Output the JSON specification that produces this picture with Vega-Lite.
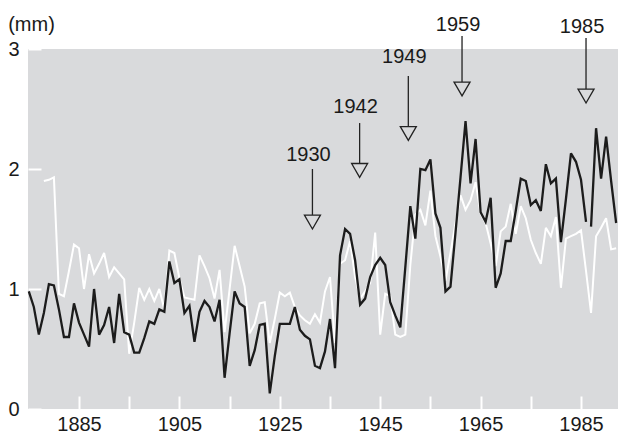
{
  "$schema": "https://vega.github.io/schema/vega-lite/v6.json",
  "autosize": {"type": "none"},
  "width": 590,
  "height": 360,
  "padding": {"left": 28, "top": 49, "right": 0, "bottom": 25},
  "background": "#ffffff",
  "config": {
    "view": {"fill": "#d9dadc", "stroke": null},
    "font": "Liberation Sans",
    "text": {"font": "Liberation Sans"}
  },
  "datasets": {
    "white": [
      {"year":1878,"value":1.90},{"year":1879,"value":1.91},{"year":1880,"value":1.93},{"year":1881,"value":0.96},{"year":1882,"value":0.94},
      {"year":1883,"value":1.15},{"year":1884,"value":1.37},{"year":1885,"value":1.34},{"year":1886,"value":1.00},{"year":1887,"value":1.29},
      {"year":1888,"value":1.13},{"year":1889,"value":1.21},{"year":1890,"value":1.30},{"year":1891,"value":1.10},{"year":1892,"value":1.18},
      {"year":1893,"value":1.13},{"year":1894,"value":1.08},{"year":1895,"value":0.46},{"year":1896,"value":0.72},{"year":1897,"value":1.01},
      {"year":1898,"value":0.91},{"year":1899,"value":1.00},{"year":1900,"value":0.90},{"year":1901,"value":1.00},{"year":1902,"value":0.83},
      {"year":1903,"value":1.32},{"year":1904,"value":1.30},{"year":1905,"value":1.09},{"year":1906,"value":0.93},{"year":1907,"value":0.92},
      {"year":1908,"value":0.91},{"year":1909,"value":1.28},{"year":1910,"value":1.19},{"year":1911,"value":1.09},{"year":1912,"value":0.92},
      {"year":1913,"value":1.16},{"year":1914,"value":0.64},{"year":1915,"value":1.00},{"year":1916,"value":1.36},{"year":1917,"value":1.19},
      {"year":1918,"value":1.02},{"year":1919,"value":0.63},{"year":1920,"value":0.71},{"year":1921,"value":0.88},{"year":1922,"value":0.89},
      {"year":1923,"value":0.55},{"year":1924,"value":0.75},{"year":1925,"value":0.97},{"year":1926,"value":0.94},{"year":1927,"value":0.97},
      {"year":1928,"value":0.85},{"year":1929,"value":0.78},{"year":1930,"value":0.74},{"year":1931,"value":0.71},{"year":1932,"value":0.79},
      {"year":1933,"value":0.72},{"year":1934,"value":0.98},{"year":1935,"value":1.10},{"year":1936,"value":0.55},{"year":1937,"value":1.21},
      {"year":1938,"value":1.24},{"year":1939,"value":1.40},{"year":1940,"value":1.10},{"year":1941,"value":0.92},{"year":1942,"value":0.98},
      {"year":1943,"value":1.05},{"year":1944,"value":1.47},{"year":1945,"value":0.62},{"year":1946,"value":0.96},{"year":1947,"value":0.94},
      {"year":1948,"value":0.62},{"year":1949,"value":0.60},{"year":1950,"value":0.62},{"year":1951,"value":1.20},{"year":1952,"value":1.62},
      {"year":1953,"value":1.66},{"year":1954,"value":1.53},{"year":1955,"value":1.82},{"year":1956,"value":1.44},{"year":1957,"value":1.27},
      {"year":1958,"value":1.07},{"year":1959,"value":1.30},{"year":1960,"value":1.55},{"year":1961,"value":1.78},{"year":1962,"value":1.66},
      {"year":1963,"value":1.74},{"year":1964,"value":1.89},{"year":1965,"value":1.63},{"year":1966,"value":1.55},{"year":1967,"value":1.38},
      {"year":1968,"value":1.19},{"year":1969,"value":1.48},{"year":1970,"value":1.52},{"year":1971,"value":1.71},{"year":1972,"value":1.46},
      {"year":1973,"value":1.69},{"year":1974,"value":1.59},{"year":1975,"value":1.41},{"year":1976,"value":1.30},{"year":1977,"value":1.21},
      {"year":1978,"value":1.51},{"year":1979,"value":1.44},{"year":1980,"value":1.60},{"year":1981,"value":1.01},{"year":1982,"value":1.42},
      {"year":1983,"value":1.44},{"year":1984,"value":1.46},{"year":1985,"value":1.49},{"year":1986,"value":1.15},{"year":1987,"value":0.80},
      {"year":1988,"value":1.44},{"year":1989,"value":1.51},{"year":1990,"value":1.59},{"year":1991,"value":1.33},{"year":1992,"value":1.34}
    ],
    "black": [
      {"year":1875,"value":0.98,"seg":"a"},{"year":1876,"value":0.85,"seg":"a"},{"year":1877,"value":0.62,"seg":"a"},{"year":1878,"value":0.80,"seg":"a"},{"year":1879,"value":1.04,"seg":"a"},
      {"year":1880,"value":1.03,"seg":"a"},{"year":1881,"value":0.83,"seg":"a"},{"year":1882,"value":0.60,"seg":"a"},{"year":1883,"value":0.60,"seg":"a"},{"year":1884,"value":0.88,"seg":"a"},
      {"year":1885,"value":0.72,"seg":"a"},{"year":1886,"value":0.62,"seg":"a"},{"year":1887,"value":0.52,"seg":"a"},{"year":1888,"value":1.00,"seg":"a"},{"year":1889,"value":0.62,"seg":"a"},
      {"year":1890,"value":0.70,"seg":"a"},{"year":1891,"value":0.85,"seg":"a"},{"year":1892,"value":0.55,"seg":"a"},{"year":1893,"value":0.96,"seg":"a"},{"year":1894,"value":0.64,"seg":"a"},
      {"year":1895,"value":0.62,"seg":"a"},{"year":1896,"value":0.47,"seg":"a"},{"year":1897,"value":0.47,"seg":"a"},{"year":1898,"value":0.59,"seg":"a"},{"year":1899,"value":0.73,"seg":"a"},
      {"year":1900,"value":0.71,"seg":"a"},{"year":1901,"value":0.83,"seg":"a"},{"year":1902,"value":0.81,"seg":"a"},{"year":1903,"value":1.23,"seg":"a"},{"year":1904,"value":1.05,"seg":"a"},
      {"year":1905,"value":1.08,"seg":"a"},{"year":1906,"value":0.80,"seg":"a"},{"year":1907,"value":0.86,"seg":"a"},{"year":1908,"value":0.56,"seg":"a"},{"year":1909,"value":0.81,"seg":"a"},
      {"year":1910,"value":0.90,"seg":"a"},{"year":1911,"value":0.85,"seg":"a"},{"year":1912,"value":0.73,"seg":"a"},{"year":1913,"value":0.91,"seg":"a"},{"year":1914,"value":0.26,"seg":"a"},
      {"year":1915,"value":0.63,"seg":"a"},{"year":1916,"value":0.98,"seg":"a"},{"year":1917,"value":0.88,"seg":"a"},{"year":1918,"value":0.85,"seg":"a"},{"year":1919,"value":0.36,"seg":"a"},
      {"year":1920,"value":0.49,"seg":"a"},{"year":1921,"value":0.70,"seg":"a"},{"year":1922,"value":0.71,"seg":"a"},{"year":1923,"value":0.13,"seg":"a"},{"year":1924,"value":0.44,"seg":"a"},
      {"year":1925,"value":0.71,"seg":"a"},{"year":1926,"value":0.71,"seg":"a"},{"year":1927,"value":0.71,"seg":"a"},{"year":1928,"value":0.85,"seg":"a"},{"year":1929,"value":0.66,"seg":"a"},
      {"year":1930,"value":0.61,"seg":"a"},{"year":1931,"value":0.58,"seg":"a"},{"year":1932,"value":0.36,"seg":"a"},{"year":1933,"value":0.34,"seg":"a"},{"year":1934,"value":0.48,"seg":"a"},
      {"year":1935,"value":0.75,"seg":"a"},{"year":1936,"value":0.34,"seg":"a"},{"year":1937,"value":1.28,"seg":"a"},{"year":1938,"value":1.50,"seg":"a"},{"year":1939,"value":1.46,"seg":"a"},
      {"year":1940,"value":1.24,"seg":"a"},{"year":1941,"value":0.87,"seg":"a"},{"year":1942,"value":0.92,"seg":"a"},{"year":1943,"value":1.10,"seg":"a"},{"year":1944,"value":1.20,"seg":"a"},
      {"year":1945,"value":1.26,"seg":"a"},{"year":1946,"value":1.20,"seg":"a"},{"year":1947,"value":0.89,"seg":"a"},{"year":1948,"value":0.78,"seg":"a"},{"year":1949,"value":0.68,"seg":"a"},
      {"year":1950,"value":1.18,"seg":"a"},{"year":1951,"value":1.69,"seg":"a"},{"year":1952,"value":1.42,"seg":"a"},{"year":1953,"value":2.00,"seg":"a"},{"year":1954,"value":1.99,"seg":"a"},
      {"year":1955,"value":2.08,"seg":"a"},{"year":1956,"value":1.63,"seg":"a"},{"year":1957,"value":1.51,"seg":"a"},{"year":1958,"value":0.98,"seg":"a"},{"year":1959,"value":1.02,"seg":"a"},
      {"year":1960,"value":1.47,"seg":"a"},{"year":1961,"value":1.93,"seg":"a"},{"year":1962,"value":2.40,"seg":"a"},{"year":1963,"value":1.88,"seg":"a"},{"year":1964,"value":2.25,"seg":"a"},
      {"year":1965,"value":1.64,"seg":"a"},{"year":1966,"value":1.56,"seg":"a"},{"year":1967,"value":1.76,"seg":"a"},{"year":1968,"value":1.01,"seg":"a"},{"year":1969,"value":1.13,"seg":"a"},
      {"year":1970,"value":1.40,"seg":"a"},{"year":1971,"value":1.40,"seg":"a"},{"year":1972,"value":1.65,"seg":"a"},{"year":1973,"value":1.92,"seg":"a"},{"year":1974,"value":1.90,"seg":"a"},
      {"year":1975,"value":1.70,"seg":"a"},{"year":1976,"value":1.74,"seg":"a"},{"year":1977,"value":1.65,"seg":"a"},{"year":1978,"value":2.04,"seg":"a"},{"year":1979,"value":1.88,"seg":"a"},
      {"year":1980,"value":1.92,"seg":"a"},{"year":1981,"value":1.39,"seg":"a"},{"year":1982,"value":1.75,"seg":"a"},{"year":1983,"value":2.13,"seg":"a"},{"year":1984,"value":2.06,"seg":"a"},
      {"year":1985,"value":1.91,"seg":"a"},{"year":1986,"value":1.56,"seg":"a"},
      {"year":1987,"value":1.52,"seg":"b"},{"year":1988,"value":2.34,"seg":"b"},{"year":1989,"value":1.92,"seg":"b"},{"year":1990,"value":2.27,"seg":"b"},{"year":1991,"value":1.90,"seg":"b"},{"year":1992,"value":1.55,"seg":"b"}
    ],
    "arrows": [
      {"label":"1930","year":1931.5,"ty":2.117,"l1":2.0,"l2":1.617,"tri":1.558},
      {"label":"1942","year":1940.9,"ty":2.517,"l1":2.383,"l2":2.05,"tri":1.988},
      {"label":"1949","year":1950.6,"ty":2.933,"l1":2.775,"l2":2.358,"tri":2.296},
      {"label":"1959","year":1961.3,"ty":3.2,"l1":3.108,"l2":2.725,"tri":2.667},
      {"label":"1985","year":1986.0,"ty":3.183,"l1":3.092,"l2":2.667,"tri":2.608}
    ]
  },
  "layer": [
    {
      "data": {"name": "white"},
      "mark": {"type": "line", "stroke": "#ffffff", "strokeWidth": 2, "strokeJoin": "miter", "strokeMiterLimit": 3},
      "encoding": {
        "x": {
          "field": "year", "type": "quantitative",
          "scale": {"domain": [1874.84, 1992.37], "nice": false, "zero": false},
          "axis": {
            "title": null, "values": [1885,1895,1905,1915,1925,1935,1945,1955,1965,1975,1985],
            "format": "d", "labelExpr": "(datum.value - 1885) % 20 === 0 ? datum.label : ''",
            "domain": false, "grid": false, "tickColor": "#ffffff", "tickSize": -13, "tickWidth": 2,
            "labelFont": "Liberation Sans", "labelFontSize": 20, "labelColor": "#1a1a1a", "labelPadding": 18,
            "labelFlush": false, "labelOverlap": false
          }
        },
        "y": {
          "field": "value", "type": "quantitative",
          "scale": {"domain": [0, 3], "nice": false, "zero": false},
          "axis": {
            "title": "(mm)", "titleAngle": 0, "titleX": 3, "titleY": -25, "titleAlign": "center", "titleBaseline": "middle",
            "titleFont": "Liberation Sans", "titleFontSize": 20, "titleFontWeight": "normal", "titleColor": "#1a1a1a",
            "values": [0, 0.5, 1, 1.5, 2, 2.5, 3], "format": "d",
            "labelExpr": "datum.value % 1 === 0 ? datum.label : ''",
            "domain": false, "grid": false, "tickColor": "#ffffff", "tickSize": -13, "tickWidth": 2,
            "labelFont": "Liberation Sans", "labelFontSize": 20, "labelColor": "#1a1a1a", "labelPadding": 22,
            "labelFlush": false, "labelOverlap": false, "labelBaseline": "middle"
          }
        }
      }
    },
    {
      "data": {"name": "black"},
      "mark": {"type": "line", "stroke": "#1c1c1c", "strokeWidth": 2.3, "strokeJoin": "miter", "strokeMiterLimit": 3},
      "encoding": {
        "x": {"field": "year", "type": "quantitative"},
        "y": {"field": "value", "type": "quantitative"},
        "detail": {"field": "seg", "type": "nominal"}
      }
    },
    {
      "data": {"name": "arrows"},
      "mark": {"type": "rule", "stroke": "#222222", "strokeWidth": 1.3},
      "encoding": {
        "x": {"field": "year", "type": "quantitative"},
        "y": {"field": "l1", "type": "quantitative"},
        "y2": {"field": "l2"}
      }
    },
    {
      "data": {"name": "arrows"},
      "mark": {"type": "point", "shape": "triangle-down", "size": 256, "filled": false, "stroke": "#222222", "strokeWidth": 1.3, "opacity": 1},
      "encoding": {
        "x": {"field": "year", "type": "quantitative"},
        "y": {"field": "tri", "type": "quantitative"}
      }
    },
    {
      "data": {"name": "arrows"},
      "mark": {"type": "text", "font": "Liberation Sans", "fontSize": 20, "color": "#1a1a1a", "baseline": "middle", "align": "center", "dx": -4},
      "encoding": {
        "x": {"field": "year", "type": "quantitative"},
        "y": {"field": "ty", "type": "quantitative"},
        "text": {"field": "label", "type": "nominal"}
      }
    }
  ]
}
